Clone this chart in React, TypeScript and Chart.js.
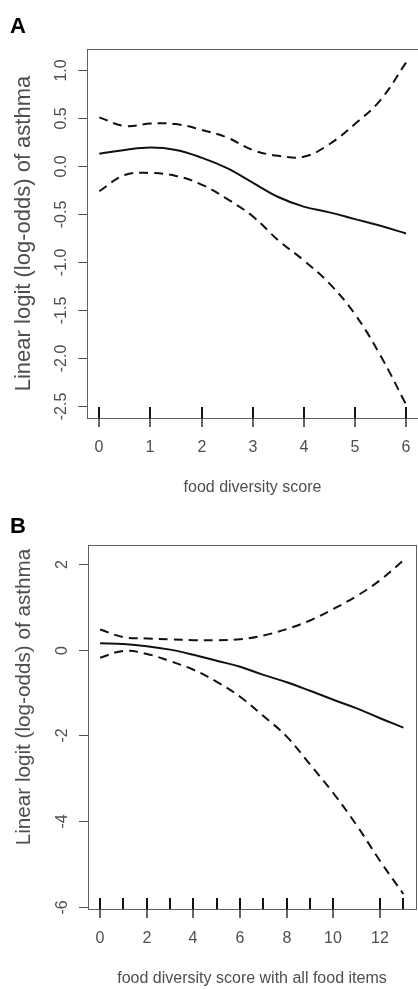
import React, { useEffect, useRef } from "react";
import { Chart, registerables } from "chart.js";

Chart.register(...registerables);

// Panel A: food diversity score (0-6)
const scoreA = [0, 0.5, 1, 1.5, 2, 2.5, 3, 3.5, 4, 4.5, 5, 5.5, 6];
const fitA = [0.13, 0.17, 0.195, 0.17, 0.09, -0.02, -0.17, -0.32, -0.42, -0.48, -0.55, -0.62, -0.7];
const upperA = [0.51, 0.42, 0.445, 0.44, 0.38, 0.3, 0.17, 0.11, 0.1, 0.23, 0.44, 0.69, 1.08];
const lowerA = [-0.26, -0.09, -0.07, -0.1, -0.19, -0.34, -0.52, -0.77, -0.98, -1.22, -1.54, -1.97, -2.48];
const rugA = [0, 1, 2, 3, 4, 5, 6];
const xTicksA = [0, 1, 2, 3, 4, 5, 6];
const yTicksA = [-2.5, -2, -1.5, -1, -0.5, 0, 0.5, 1];
const yTickLabelsA = ["-2.5", "-2.0", "-1.5", "-1.0", "-0.5", "0.0", "0.5", "1.0"];

// Panel B: food diversity score with all food items (0-13)
const scoreB = [0, 1, 2, 3, 4, 5, 6, 7, 8, 9, 10, 11, 12, 13];
const fitB = [0.15, 0.13, 0.08, 0.0, -0.12, -0.26, -0.4, -0.59, -0.76, -0.96, -1.17, -1.37, -1.6, -1.82];
const upperB = [0.47, 0.29, 0.26, 0.24, 0.22, 0.22, 0.24, 0.33, 0.48, 0.68, 0.95, 1.25, 1.62, 2.08];
const lowerB = [-0.19, -0.03, -0.1, -0.27, -0.47, -0.75, -1.1, -1.55, -2.03, -2.68, -3.35, -4.1, -4.93, -5.7];
const rugB = [0, 1, 2, 3, 4, 5, 6, 7, 8, 9, 10, 12, 13];
const xTicksB = [0, 2, 4, 6, 8, 10, 12];
const yTicksB = [-6, -4, -2, 0, 2];
const yTickLabelsB = ["-6", "-4", "-2", "0", "2"];

const FONT = '"Liberation Sans", Arial, Helvetica, sans-serif';
const TEXT = "#4e4e4e";

type PanelSpec = {
  letter: string;
  xTitle: string;
  yTitle: string;
  yTitleSize: number;
  yTitleY: number;
  xs: number[];
  fit: number[];
  upper: number[];
  lower: number[];
  rug: number[];
  xTicks: number[];
  yTicks: number[];
  yTickLabels: string[];
  xMin: number;
  xMax: number;
  yMin: number;
  yMax: number;
  height: number;
  padding: { left: number; right: number; top: number; bottom: number };
};

const panelA: PanelSpec = {
  letter: "A",
  xTitle: "food diversity score",
  yTitle: "Linear logit (log-odds) of asthma",
  yTitleSize: 22,
  yTitleY: 233.5,
  xs: scoreA,
  fit: fitA,
  upper: upperA,
  lower: lowerA,
  rug: rugA,
  xTicks: xTicksA,
  yTicks: yTicksA,
  yTickLabels: yTickLabelsA,
  xMin: -0.24,
  xMax: 6.235,
  yMin: -2.622,
  yMax: 1.222,
  height: 500,
  padding: { left: 87, right: 0, top: 49, bottom: 82 },
};

const panelB: PanelSpec = {
  letter: "B",
  xTitle: "food diversity score with all food items",
  yTitle: "Linear logit (log-odds) of asthma",
  yTitleSize: 20.7,
  yTitleY: 197,
  xs: scoreB,
  fit: fitB,
  upper: upperB,
  lower: lowerB,
  rug: rugB,
  xTicks: xTicksB,
  yTicks: yTicksB,
  yTickLabels: yTickLabelsB,
  xMin: -0.52,
  xMax: 13.54,
  yMin: -6.05,
  yMax: 2.44,
  height: 489,
  padding: { left: 88, right: 2, top: 45, bottom: 80 },
};

// Draws the R-style frame: box, axis ticks, rug, labels and titles
function framePlugin(spec: PanelSpec) {
  return {
    id: "rframe",
    afterDraw(chart: any) {
      const { ctx, chartArea: a, scales } = chart;
      const xs = scales.x;
      const ys = scales.y;
      ctx.save();

      // plot box
      ctx.strokeStyle = "#606060";
      ctx.lineWidth = 1;
      ctx.strokeRect(a.left + 0.5, a.top + 0.5, a.right - a.left, a.bottom - a.top);

      // y axis ticks and rotated labels
      ctx.fillStyle = TEXT;
      ctx.font = `16px ${FONT}`;
      spec.yTicks.forEach((v, i) => {
        const py = Math.round(ys.getPixelForValue(v)) + 0.5;
        ctx.strokeStyle = "#505050";
        ctx.lineWidth = 1;
        ctx.beginPath();
        ctx.moveTo(a.left - 9, py);
        ctx.lineTo(a.left, py);
        ctx.stroke();
        ctx.save();
        ctx.translate(a.left - 25, py);
        ctx.rotate(-Math.PI / 2);
        ctx.textAlign = "center";
        ctx.textBaseline = "middle";
        ctx.fillText(spec.yTickLabels[i], 0, 0);
        ctx.restore();
      });

      // x axis ticks below the frame
      ctx.strokeStyle = "#333";
      ctx.lineWidth = 1.5;
      spec.xTicks.forEach((v) => {
        const px = Math.round(xs.getPixelForValue(v));
        ctx.beginPath();
        ctx.moveTo(px, a.bottom);
        ctx.lineTo(px, a.bottom + 9);
        ctx.stroke();
        ctx.textAlign = "center";
        ctx.textBaseline = "middle";
        ctx.fillText(String(v), px, a.bottom + 30);
      });

      // rug of observed scores
      ctx.strokeStyle = "#111";
      ctx.lineWidth = 2;
      spec.rug.forEach((v) => {
        const px = Math.round(xs.getPixelForValue(v));
        ctx.beginPath();
        ctx.moveTo(px, a.bottom - 11);
        ctx.lineTo(px, a.bottom);
        ctx.stroke();
      });

      // axis titles
      ctx.fillStyle = TEXT;
      ctx.font = `16px ${FONT}`;
      ctx.textAlign = "center";
      ctx.textBaseline = "middle";
      ctx.fillText(spec.xTitle, (a.left + a.right) / 2, a.bottom + 70);

      ctx.save();
      ctx.font = `${spec.yTitleSize}px ${FONT}`;
      ctx.translate(24, spec.yTitleY);
      ctx.rotate(-Math.PI / 2);
      ctx.fillText(spec.yTitle, 0, 0);
      ctx.restore();

      // panel letter
      ctx.fillStyle = "#000";
      ctx.font = `bold 22px ${FONT}`;
      ctx.textAlign = "left";
      ctx.textBaseline = "alphabetic";
      ctx.fillText(spec.letter, 10, 33);

      ctx.restore();
    },
  };
}

function Panel({ spec }: { spec: PanelSpec }) {
  const ref = useRef<HTMLCanvasElement>(null);

  useEffect(() => {
    const canvas = ref.current;
    if (!canvas) return;
    const pts = (ys: number[]) => spec.xs.map((x, i) => ({ x, y: ys[i] }));
    const line = {
      borderColor: "#111",
      borderWidth: 2,
      pointRadius: 0,
      fill: false,
      tension: 0.4,
    };
    const chart = new Chart(canvas, {
      type: "line",
      data: {
        datasets: [
          { ...line, label: "fit", data: pts(spec.fit) },
          { ...line, label: "upper", data: pts(spec.upper), borderDash: [9, 6] },
          { ...line, label: "lower", data: pts(spec.lower), borderDash: [9, 6] },
        ],
      },
      options: {
        animation: false,
        responsive: false,
        events: [],
        layout: { padding: spec.padding },
        plugins: { legend: { display: false }, tooltip: { enabled: false }, title: { display: false } },
        scales: {
          x: { type: "linear", min: spec.xMin, max: spec.xMax, display: false },
          y: { type: "linear", min: spec.yMin, max: spec.yMax, display: false },
        },
      },
      plugins: [framePlugin(spec)],
    });
    return () => chart.destroy();
  }, [spec]);

  return (
    <canvas
      ref={ref}
      width={418}
      height={spec.height}
      style={{ display: "block", width: 418, height: spec.height }}
    />
  );
}

export default function App() {
  return (
    <div style={{ position: "absolute", left: 0, top: 0, width: 418, background: "#fff" }}>
      <Panel spec={panelA} />
      <Panel spec={panelB} />
    </div>
  );
}
